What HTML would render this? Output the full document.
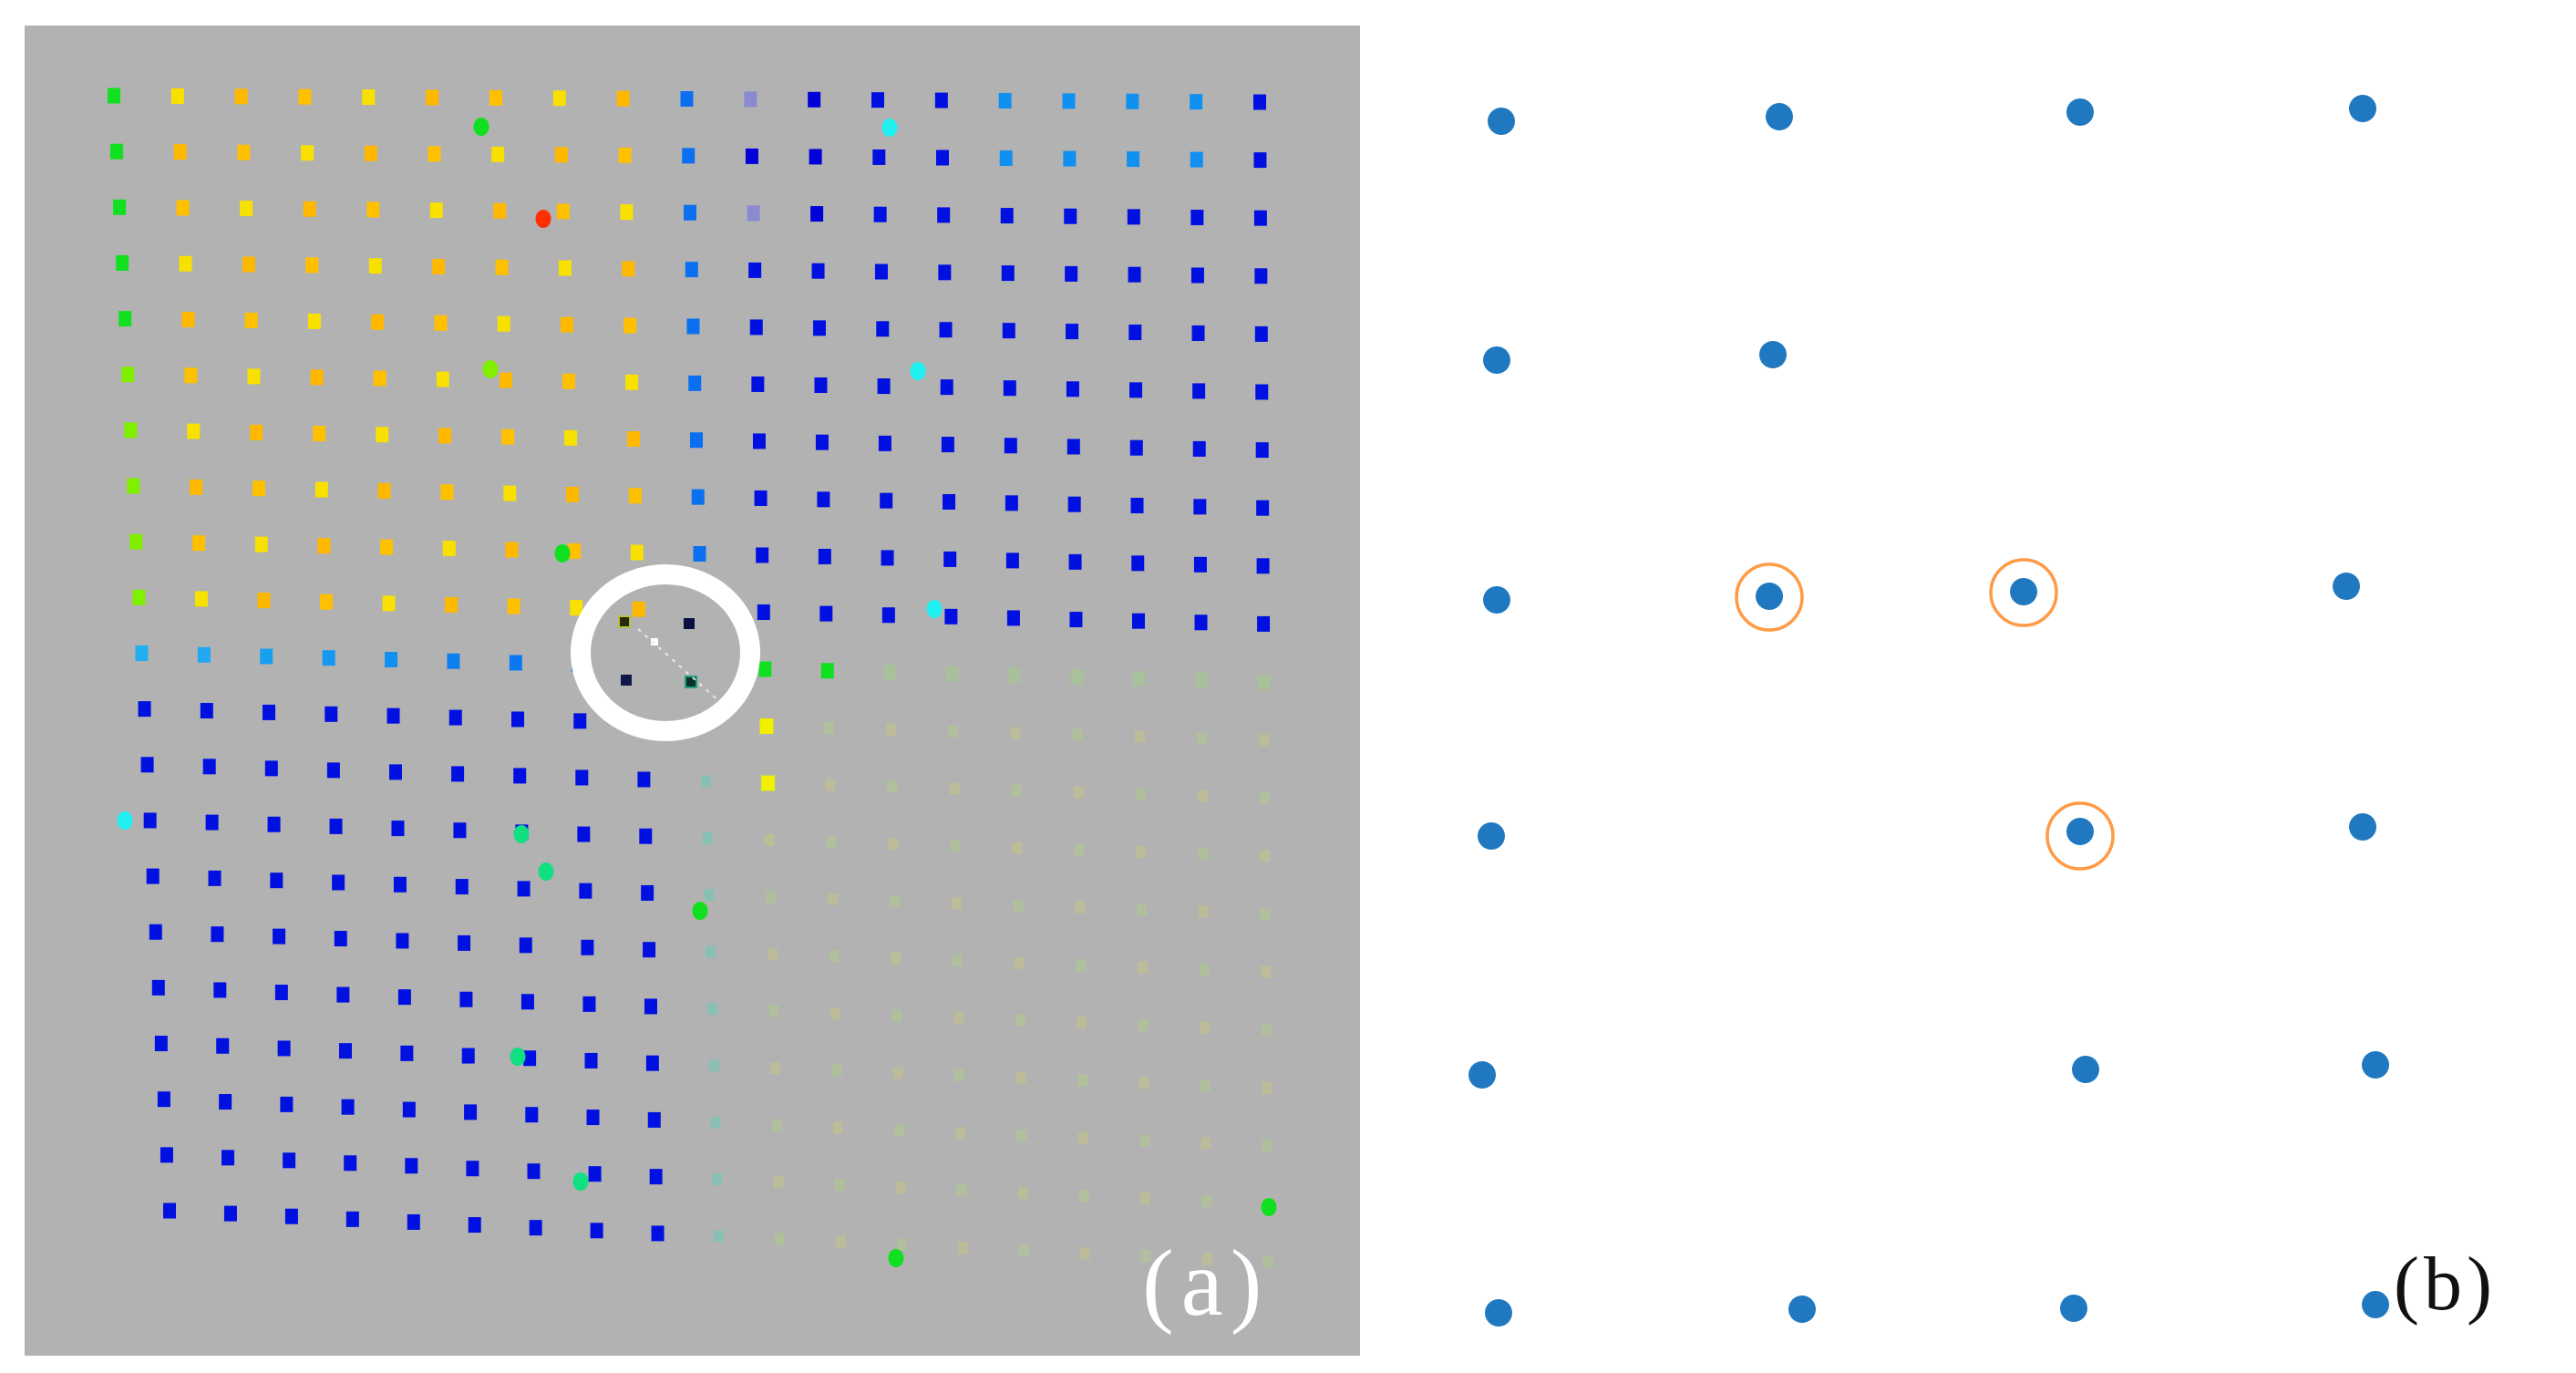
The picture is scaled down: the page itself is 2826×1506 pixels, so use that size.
<!DOCTYPE html>
<html><head><meta charset="utf-8"><style>
html,body{margin:0;padding:0;background:#fff;width:2826px;height:1506px;overflow:hidden}
svg{display:block}
</style></head><body>
<svg id="s" width="2826" height="1506" xmlns="http://www.w3.org/2000/svg">
<rect x="27" y="28" width="1465" height="1459" fill="#b2b2b2"/>
<g id="grid"></g>
<g id="extra"></g>
<ellipse cx="730" cy="716" rx="93" ry="86" fill="none" stroke="#ffffff" stroke-width="22"/>
<g>
<rect x="679" y="676" width="12" height="12" fill="#2a2a10" stroke="#b8c040" stroke-width="2"/>
<rect x="750" y="678" width="12" height="12" fill="#0a1040"/>
<rect x="681" y="740" width="12" height="12" fill="#101848"/>
<rect x="752" y="742" width="12" height="12" fill="#0a3028" stroke="#20a080" stroke-width="2"/>
<rect x="714" y="700" width="8" height="8" fill="#fff"/>
<line x1="700" y1="690" x2="790" y2="770" stroke="#e8e8e8" stroke-width="2" stroke-dasharray="4 6"/>
</g>
<text x="1253" y="1442" font-family="Liberation Serif, serif" font-size="104" letter-spacing="8" fill="#ffffff">(a)</text>
<g id="dots" fill="#2079c0"></g>
<g fill="none" stroke="#ff9a45" stroke-width="3.5">
<circle cx="1941" cy="655" r="36"/>
<circle cx="2220" cy="650" r="36"/>
<circle cx="2282" cy="917" r="36"/>
</g>
<text x="2626" y="1436" font-family="Liberation Serif, serif" font-size="84" letter-spacing="5" fill="#111">(b)</text>
</svg>
<script>
var NS="http://www.w3.org/2000/svg";
var g=document.getElementById('grid');
function rect(p,x,y,w,h,c){var r=document.createElementNS(NS,'rect');r.setAttribute('x',x-w/2);r.setAttribute('y',y-h/2);r.setAttribute('width',w);r.setAttribute('height',h);r.setAttribute('fill',c);p.appendChild(r);}
function circ(p,x,y,r,c){var e=document.createElementNS(NS,'ellipse');e.setAttribute('cx',x);e.setAttribute('cy',y);e.setAttribute('rx',r*0.85);e.setAttribute('ry',r);e.setAttribute('fill',c);p.appendChild(e);}
var TL=[125,105],TR=[1382,112],BL=[186,1328],BR=[1391,1384];
for(var r=0;r<21;r++){for(var c=0;c<19;c++){
 var u=c/18,v=r/20;
 var x=(1-u)*(1-v)*TL[0]+u*(1-v)*TR[0]+(1-u)*v*BL[0]+u*v*BR[0];
 var y=(1-u)*(1-v)*TL[1]+u*(1-v)*TR[1]+(1-u)*v*BL[1]+u*v*BR[1];
 var col,w=14,h=17;
 if(r<10){
  if(c==0)col=r<5?'#10e020':'#80f000';
  else if(c<9)col=((c+r)%3==0)?'#ffc000':((c+r)%3==1?'#f8e000':'#ffb800');
  else if(c==9)col='#0a70f0';
  else if(c<=11&&r<3)col=(c==10&&r!=1)?'#8a8ad0':'#0000d8';
  else if(c>=14&&c<=17&&r<2)col='#1090f0';
  else col='#0010e0';
 }else if(r==10){
  if(c<8)col=['#20b0f0','#20a8f0','#18a0f0','#1498f0','#1090f0','#0c80f0','#0a78f0','#0a70f0'][c];
  else if(c<10)col=null;
  else if(c<12)col='#10e020';
  else col='#a8c09c';
 }else{
  if(c<9)col='#0010e0';
  else if(c==9){col='#88c0b4';w=11;h=13;}
  else if(c==10&&(r==11||r==12)){col='#f0f000';w=15;h=17;}
  else {col=((c+r)%2)?'#bcbc98':'#b0c09c';w=11;h=13;}
 }
 if(r==9&&c==9)col=null;
 if(r==11&&c==8)col=null;
 if(col)rect(g,x,y,w,h,col);
}}
var ex=document.getElementById('extra');
var pts=[[528,139,'#10e020'],[976,140,'#20f0f0'],[596,240,'#ff3000'],[538,405,'#80f000'],[1007,407,'#20f0f0'],[617,607,'#10e020'],[1025,668,'#20f0f0'],[137,900,'#20f0f0'],[572,915,'#10e080'],[599,956,'#10e080'],[768,999,'#10e020'],[568,1159,'#10e080'],[637,1296,'#10e080'],[1392,1324,'#10e020'],[983,1380,'#10e020']];
pts.forEach(function(p){circ(ex,p[0],p[1],10,p[2]);});
var d=document.getElementById('dots');
var D=[[1647,133],[1952,128],[2282,123],[2592,119],[1642,395],[1945,389],[1642,658],[1941,654],[2220,649],[2574,643],[1636,917],[2282,912],[2592,907],[1626,1179],[2288,1173],[2606,1168],[1644,1440],[1977,1436],[2275,1435],[2606,1431]];
D.forEach(function(p){var e=document.createElementNS(NS,'circle');e.setAttribute('cx',p[0]);e.setAttribute('cy',p[1]);e.setAttribute('r',15);d.appendChild(e);});
</script>
</body></html>
